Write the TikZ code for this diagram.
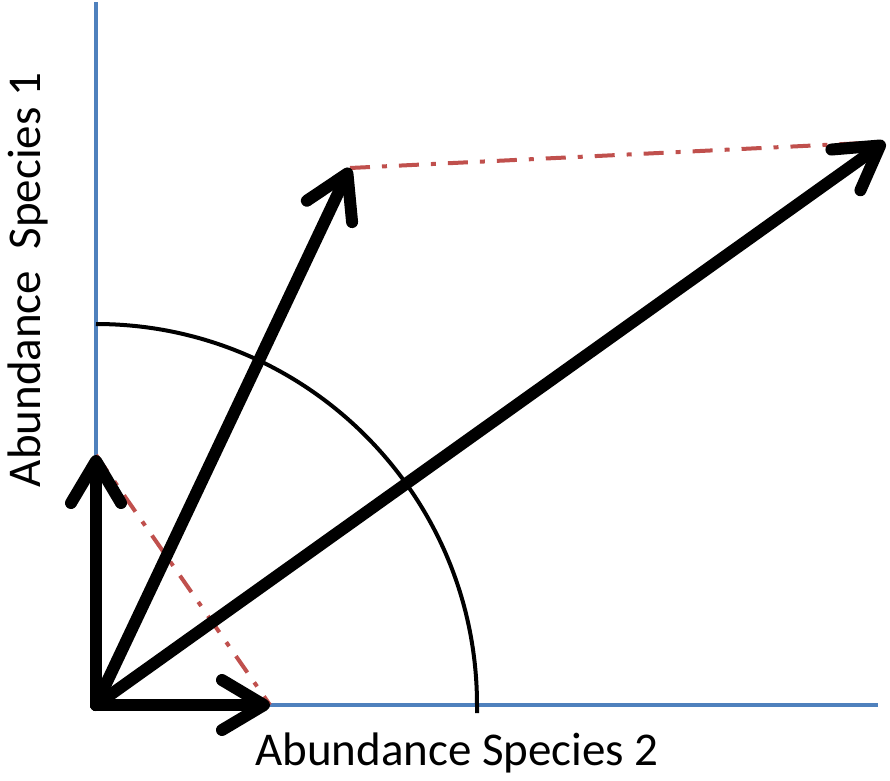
\documentclass[tikz,border=0pt]{standalone}
\usepackage{fontspec}
\setmainfont{Carlito}
\usetikzlibrary{arrows.meta}
\definecolor{axblue}{RGB}{79,129,189}
\definecolor{dred}{RGB}{192,80,77}
\tikzset{
  axis/.style={draw=axblue,line width=3.5pt},
  vec/.style={line width=12pt,line cap=round,-{Straight Barb[length=42pt,width=50pt,round]}},
  ddot/.style={draw=dred,line width=4pt,dash pattern=on 20pt off 12pt on 5pt off 12pt},
  lbl/.style={font=\fontsize{47}{51}\selectfont,inner sep=0pt}
}
\begin{document}
\begin{tikzpicture}[x=1pt,y=-1pt]
\useasboundingbox (0,0) rectangle (890,780);
\coordinate (O) at (96,705);
\coordinate (ytop) at (96,2);
\coordinate (xend) at (878,705);
\coordinate (a1) at (96,455);
\coordinate (a2) at (270,705);
\coordinate (b1) at (350,168);
\coordinate (b2) at (885,142);
% axes
\draw[axis] (ytop) -- (O) -- (xend);
% arc
\draw[line width=4pt] (96,324) arc[start angle=-90,end angle=0,radius=381] -- ++(0,8);
% dash-dot lines
\draw[ddot] (a1) -- (a2);
\draw[ddot] (b1) -- (b2);
% vectors
\draw[vec] (O) -- (a1);
\draw[vec] (O) -- (a2);
\draw[vec] (O) -- (b1);
\draw[vec] (O) -- (b2);
% labels
\node[lbl] (xl) at (457,753) {Abundance Species 2};
\node[lbl,rotate=90] (yl) at (28,280) {Abundance\ \ Species 1};
\end{tikzpicture}
\end{document}
